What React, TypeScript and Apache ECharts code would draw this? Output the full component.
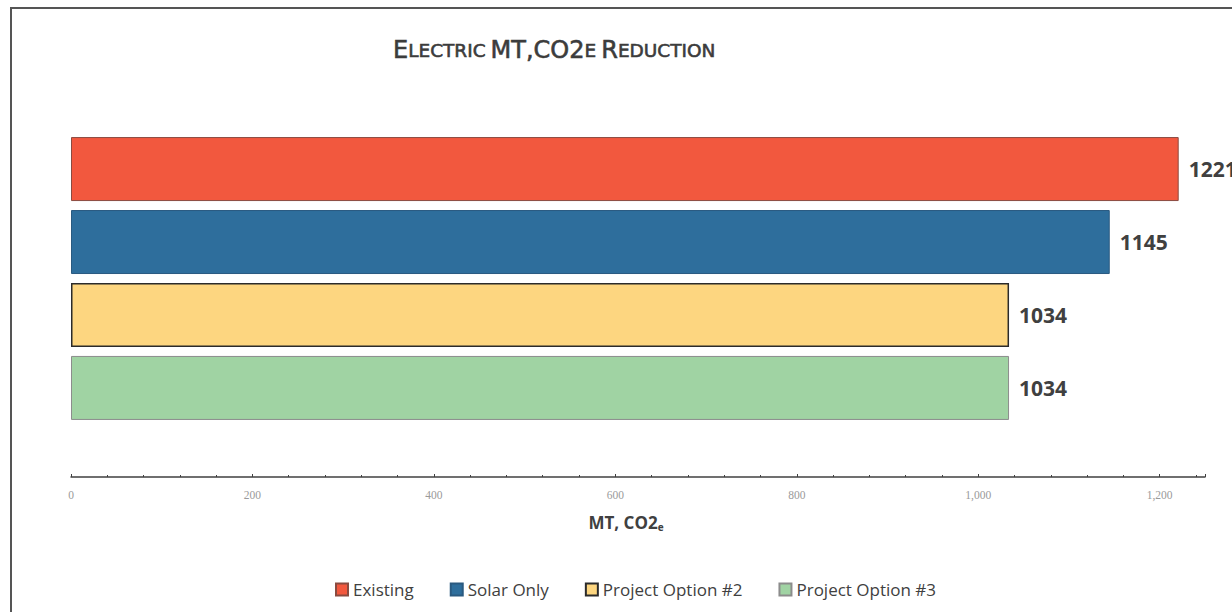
import React, { useEffect, useRef } from "react";
import * as echarts from "echarts";

// Electric MT CO2e reduction per scenario
const scenarios = ["Existing", "Solar Only", "Project Option #2", "Project Option #3"];
const reductions = [1221, 1145, 1034, 1034];
const fillColors = ["#F2583E", "#2E6E9C", "#FDD680", "#A0D3A3"];
const borderColors = ["#8A4B40", "#2A5A80", "#2B2B2B", "#8C8C8C"];
const borderWidths = [1, 1, 1.5, 1];
const axisMax = 1250;
const axisStep = 200;

export default function App() {
  const ref = useRef<HTMLDivElement>(null);

  useEffect(() => {
    if (!ref.current) return;
    const chart = echarts.init(ref.current, undefined, { renderer: "svg" });

    const series = scenarios.map((name, i) => ({
      name,
      type: "bar",
      data: [reductions[i]],
      barWidth: 64,
      barGap: "14%",
      itemStyle: {
        color: fillColors[i],
        borderColor: borderColors[i],
        borderWidth: borderWidths[i],
      },
      label: {
        show: true,
        position: "right",
        distance: 10,
        fontFamily: "Open Sans",
        fontSize: 21,
        fontWeight: "bold",
        color: "#404040",
      },
    }));

    // small-caps title: full-size capitals plus reduced capitals
    const titleBase = {
      fontFamily: "DejaVu Sans",
      fontWeight: "normal",
      color: "#3c3c3c",
      textBorderColor: "#3c3c3c",
      textBorderWidth: 0.6,
    };

    chart.setOption({
      animation: false,
      backgroundColor: "#ffffff",
      title: {
        left: 388,
        top: 33,
        text: "{b|E}{s|LECTRIC} {b|MT,CO2}{s|E} {b|R}{s|EDUCTION}",
        textStyle: {
          rich: {
            b: { ...titleBase, fontSize: 24 },
            s: { ...titleBase, fontSize: 18.5 },
          },
        },
      },
      graphic: [
        {
          type: "rect",
          shape: { x: 11, y: 8, width: 1300, height: 700 },
          style: { fill: "none", stroke: "#555555", lineWidth: 2 },
          silent: true,
        },
      ],
      grid: { left: 71, top: 80, width: 1134, height: 397 },
      xAxis: {
        type: "value",
        min: 0,
        max: axisMax,
        interval: axisStep,
        splitLine: { show: false },
        axisLine: { show: true, lineStyle: { color: "#404040", width: 1.5 } },
        axisTick: { show: true, inside: true, length: 3, lineStyle: { color: "#404040" } },
        minorTick: { show: true, splitNumber: 5, length: 2, lineStyle: { color: "#404040" } },
        axisLabel: {
          margin: 12,
          fontFamily: "Liberation Serif",
          fontSize: 11.5,
          color: "#9a9a9a",
          formatter: (v: number) => (v % axisStep === 0 ? v.toLocaleString("en-US") : ""),
        },
        name: "{a|MT, CO2}{e|e}",
        nameLocation: "middle",
        nameGap: 35,
        nameTextStyle: {
          padding: [0, 24, 0, 0],
          rich: {
            a: { fontFamily: "Open Sans", fontSize: 17, fontWeight: "bold", color: "#404040" },
            e: {
              fontFamily: "Open Sans",
              fontSize: 10,
              fontWeight: "bold",
              color: "#404040",
              padding: [10, 0, 0, 0],
            },
          },
        },
      },
      yAxis: {
        type: "category",
        data: ["MT, CO2e"],
        inverse: true,
        show: false,
      },
      legend: {
        data: scenarios,
        top: 576,
        left: 330,
        itemWidth: 12,
        itemHeight: 12,
        itemGap: 36,
        icon: "rect",
        textStyle: { fontFamily: "Open Sans", fontSize: 17, color: "#404040" },
      },
      series,
    });

    return () => chart.dispose();
  }, []);

  return (
    <div
      ref={ref}
      style={{ position: "fixed", left: 0, top: 0, width: 1232, height: 612 }}
    />
  );
}
